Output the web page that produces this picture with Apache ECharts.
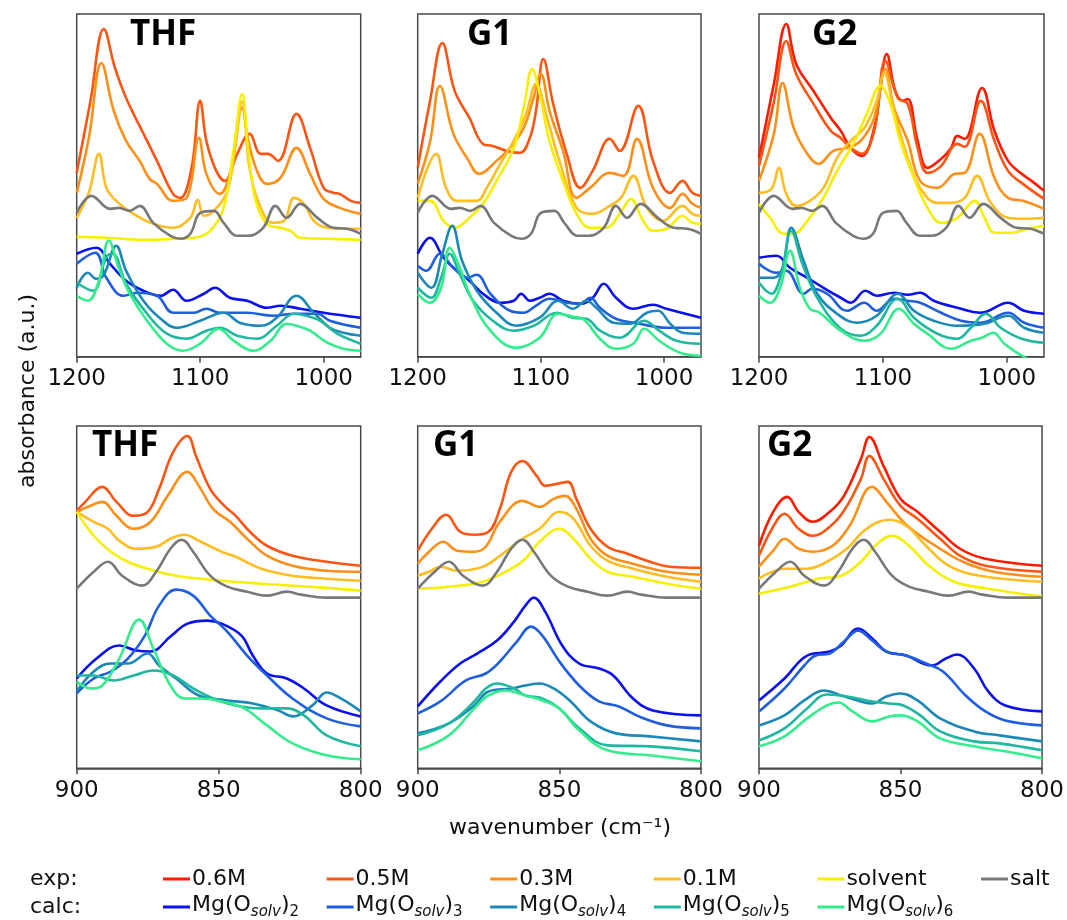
<!DOCTYPE html>
<html><head><meta charset="utf-8">
<script src="https://cdn.jsdelivr.net/npm/echarts@6/dist/echarts.min.js"></script>
<style>html,body{margin:0;padding:0;background:#fff}#c{width:1067px;height:920px}</style>
</head><body><div id="c"></div>
<script>
// ---------- legend / series names & colours ----------
const expNames = ['0.6M', '0.5M', '0.3M', '0.1M', 'solvent', 'salt'];
const expColors = ['#ff1a00', '#ff5512', '#ff8f17', '#ffbd22', '#f7ef00', '#787878'];
const calcIdx = ['2', '3', '4', '5', '6'];
const calcColors = ['#0b10ee', '#1f5fdf', '#1b88b8', '#1fb79f', '#33ec8c'];
const topTicks = [1200, 1100, 1000];
const panelLabels = ['THF', 'G1', 'G2'];

// ---------- shared salt spectra ----------
const salt_top = [[1200,144],[1188,161],[1173,148],[1166,149],[1157,146],[1149,151],[1138,134],[1124,121],[1116,118],[1108,123],[1100,144],[1089,146],[1081,134],[1070,121],[1061,121],[1049,129],[1039,151],[1030,139],[1019,153],[1005,139],[992,129],[981,128],[970,123]];
const salt_bot = [[900,180],[894,197],[889,207],[884,193],[877,183],[872,197],[867,220],[863,229],[859,217],[853,193],[847,182],[840,177],[833,173],[826,177],[821,174],[812,171],[800,171]];

// ---------- THF, 1200-970 ----------
const thfT_05 = [[1200,184],[1189,255],[1178,328],[1169,289],[1160,259],[1143,216],[1135,196],[1122,163],[1116,159],[1107,189],[1100,256],[1095,216],[1087,186],[1080,176],[1070,203],[1060,223],[1051,203],[1045,203],[1037,196],[1022,243],[1011,209],[1000,169],[992,164],[987,163],[978,156],[970,154]];
const thfT_03 = [[1200,164],[1190,220],[1180,294],[1170,246],[1160,216],[1149,196],[1141,178],[1135,173],[1122,156],[1111,159],[1101,219],[1095,183],[1084,163],[1076,183],[1066,249],[1061,216],[1054,186],[1046,173],[1035,179],[1022,209],[1011,183],[1000,158],[987,149],[970,143]];
const thfT_01 = [[1200,139],[1190,165],[1182,203],[1176,169],[1168,156],[1154,143],[1138,133],[1122,129],[1108,139],[1102,157],[1097,141],[1089,146],[1078,166],[1072,206],[1066,255],[1060,189],[1051,149],[1041,134],[1032,136],[1024,159],[1016,153],[1008,136],[997,129],[981,128],[970,128]];
const thfT_sol = [[1200,120],[1175,119],[1146,117],[1120,118],[1105,119],[1092,126],[1081,149],[1073,206],[1066,263],[1061,206],[1055,156],[1046,133],[1035,129],[1027,126],[1019,119],[997,118],[970,117]];
const thfT_m2 = [[1200,103],[1184,109],[1173,93],[1160,76],[1146,66],[1132,61],[1122,67],[1111,56],[1097,63],[1088,69],[1076,59],[1062,56],[1046,49],[1035,51],[1019,48],[1000,44],[970,39]];
const thfT_m3 = [[1200,93],[1185,104],[1176,79],[1162,61],[1151,64],[1135,61],[1122,44],[1105,44],[1095,48],[1084,44],[1062,44],[1041,41],[1024,43],[1005,43],[995,36],[970,29]];
const thfT_m4 = [[1200,69],[1191,84],[1184,78],[1178,82],[1168,111],[1160,86],[1146,56],[1132,38],[1119,29],[1100,36],[1081,44],[1068,34],[1051,31],[1038,39],[1022,61],[1008,44],[995,29],[984,24],[970,21]];
const thfT_m5 = [[1200,74],[1187,66],[1176,100],[1171,103],[1160,73],[1143,43],[1127,23],[1111,18],[1095,26],[1084,29],[1070,21],[1054,18],[1038,31],[1024,43],[1014,41],[1003,36],[989,23],[970,13]];
const thfT_m6 = [[1200,61],[1191,56],[1182,76],[1174,116],[1166,89],[1157,63],[1143,36],[1127,13],[1114,6],[1100,13],[1085,28],[1073,16],[1057,6],[1043,16],[1030,33],[1022,31],[1011,26],[997,14],[984,8],[970,6]];

// ---------- G1, 1200-970 ----------
const g1T_05 = [[1200,189],[1190,256],[1180,314],[1170,266],[1158,239],[1147,213],[1139,211],[1128,206],[1117,204],[1109,219],[1104,246],[1098,298],[1090,253],[1079,203],[1068,169],[1058,186],[1044,218],[1036,206],[1021,251],[1009,196],[995,164],[985,176],[977,164],[970,161]];
const g1T_03 = [[1200,173],[1190,215],[1182,271],[1171,223],[1160,199],[1150,183],[1136,196],[1125,209],[1114,229],[1106,259],[1100,283],[1093,246],[1082,206],[1071,159],[1060,169],[1044,184],[1033,181],[1022,218],[1009,169],[995,149],[985,163],[977,153],[970,149]];
const g1T_01 = [[1200,159],[1185,203],[1177,169],[1168,156],[1152,156],[1144,169],[1133,193],[1122,216],[1112,243],[1104,273],[1095,239],[1085,196],[1071,149],[1058,143],[1044,151],[1035,159],[1025,181],[1014,149],[1001,136],[985,151],[977,143],[970,141]];
const g1T_sol = [[1200,156],[1190,156],[1179,136],[1170,129],[1158,139],[1147,153],[1136,176],[1122,209],[1114,249],[1107,288],[1101,263],[1093,216],[1082,176],[1071,143],[1060,129],[1047,129],[1036,143],[1027,158],[1017,136],[1009,126],[998,128],[985,141],[977,134],[970,133]];
const g1T_m2 = [[1200,103],[1190,119],[1179,99],[1168,86],[1158,76],[1147,63],[1133,54],[1122,56],[1116,63],[1109,56],[1101,59],[1093,63],[1082,56],[1068,53],[1058,59],[1049,73],[1039,59],[1025,48],[1009,52],[998,48],[970,39]];
const g1T_m3 = [[1200,91],[1193,86],[1182,103],[1171,89],[1160,79],[1152,82],[1141,63],[1125,46],[1114,44],[1104,51],[1093,58],[1079,54],[1068,53],[1060,59],[1052,49],[1039,38],[1020,33],[998,29],[970,29]];
const g1T_m4 = [[1200,84],[1189,69],[1180,103],[1172,131],[1164,96],[1152,66],[1136,44],[1120,31],[1101,39],[1086,56],[1074,48],[1063,56],[1055,49],[1041,34],[1028,33],[1014,44],[1005,46],[995,33],[985,24],[970,23]];
const g1T_m5 = [[1200,69],[1189,59],[1181,79],[1174,103],[1166,83],[1155,56],[1139,36],[1122,26],[1106,31],[1087,44],[1074,39],[1063,38],[1052,26],[1036,19],[1016,36],[1004,26],[990,16],[970,13]];
const g1T_m6 = [[1200,63],[1190,54],[1181,69],[1174,109],[1167,93],[1158,63],[1141,26],[1120,9],[1101,19],[1086,43],[1074,40],[1066,38],[1052,18],[1039,8],[1025,13],[1016,28],[1004,16],[987,4],[970,1]];

// ---------- G2, 1200-970 ----------
const g2T_06 = [[1200,199],[1188,273],[1178,333],[1170,293],[1156,266],[1142,239],[1134,226],[1126,209],[1117,201],[1107,229],[1102,269],[1097,303],[1090,266],[1084,256],[1080,258],[1072,216],[1064,189],[1053,198],[1045,209],[1040,221],[1034,218],[1020,269],[1010,226],[999,196],[988,183],[980,176],[970,166]];
const g2T_05 = [[1200,191],[1188,255],[1178,316],[1170,283],[1156,253],[1142,226],[1134,219],[1126,209],[1117,203],[1107,226],[1098,296],[1088,259],[1080,253],[1072,209],[1064,184],[1053,191],[1040,213],[1034,210],[1021,256],[1010,216],[999,186],[987,173],[970,158]];
const g2T_03 = [[1200,176],[1188,223],[1181,274],[1172,229],[1161,203],[1152,193],[1140,206],[1129,209],[1118,216],[1107,239],[1098,288],[1091,249],[1080,216],[1070,176],[1056,169],[1042,183],[1034,184],[1022,223],[1010,179],[999,159],[987,156],[970,148]];
const g2T_01 = [[1200,164],[1190,168],[1184,189],[1178,163],[1170,151],[1159,156],[1148,169],[1137,199],[1126,216],[1115,229],[1105,256],[1099,284],[1091,246],[1080,199],[1070,169],[1056,154],[1045,154],[1034,159],[1024,181],[1013,154],[999,139],[986,138],[970,139]];
const g2T_sol = [[1200,153],[1191,139],[1180,123],[1172,123],[1161,136],[1148,159],[1137,186],[1124,213],[1113,243],[1102,271],[1094,253],[1086,216],[1075,179],[1064,149],[1053,134],[1040,139],[1026,156],[1018,139],[1010,124],[997,124],[983,128],[970,131]];
const g2T_m2 = [[1200,99],[1186,101],[1175,89],[1161,79],[1148,69],[1134,59],[1126,54],[1114,66],[1105,61],[1091,64],[1080,62],[1070,64],[1059,56],[1040,49],[1021,44],[999,54],[986,46],[970,43]];
const g2T_m3 = [[1200,93],[1186,84],[1178,86],[1164,63],[1157,68],[1145,63],[1129,46],[1115,54],[1105,46],[1091,58],[1080,56],[1070,54],[1053,44],[1037,36],[1021,34],[999,44],[986,34],[970,29]];
const g2T_m4 = [[1200,79],[1188,79],[1181,89],[1174,129],[1164,96],[1153,63],[1137,43],[1121,34],[1105,41],[1088,63],[1075,46],[1059,36],[1040,31],[1018,33],[999,41],[986,29],[970,24]];
const g2T_m5 = [[1200,74],[1190,63],[1182,83],[1174,126],[1165,93],[1153,59],[1134,28],[1118,21],[1105,31],[1088,58],[1075,39],[1056,23],[1040,18],[1029,29],[1017,43],[1005,29],[988,18],[970,14]];
const g2T_m6 = [[1200,61],[1191,54],[1183,69],[1175,106],[1167,69],[1159,48],[1151,44],[1134,26],[1115,16],[1102,23],[1087,48],[1075,33],[1064,23],[1045,8],[1029,16],[1020,19],[1011,24],[1002,13],[988,1],[970,-11]];

// ---------- THF, 900-800 ----------
const thfB_05 = [[900,258],[897,267],[891,282],[886,267],[880,253],[875,257],[871,280],[866,317],[861,333],[858,313],[853,280],[848,263],[844,253],[839,237],[833,223],[824,213],[812,207],[800,203]];
const thfB_03 = [[900,257],[896,262],[891,267],[886,253],[880,240],[874,247],[868,273],[861,297],[857,283],[852,260],[846,247],[840,230],[833,213],[824,203],[812,198],[800,197]];
const thfB_01 = [[900,257],[894,247],[889,240],[885,228],[879,220],[872,222],[867,230],[862,234],[857,228],[849,217],[844,212],[835,200],[824,193],[812,190],[800,188]];
const thfB_sol = [[900,257],[894,233],[888,217],[882,207],[875,200],[865,193],[853,189],[835,185],[818,182],[800,178]];
const thfB_m2 = [[900,90],[893,110],[885,123],[879,118],[874,117],[867,132],[861,145],[854,148],[849,145],[842,133],[838,113],[833,95],[826,90],[820,80],[812,63],[800,52]];
const thfB_m3 = [[900,75],[894,90],[888,97],[882,110],[876,133],[871,163],[865,179],[859,173],[853,153],[847,137],[840,113],[833,93],[824,70],[812,50],[800,42]];
const thfB_m4 = [[900,77],[894,97],[888,105],[882,105],[875,115],[871,103],[865,90],[857,73],[847,68],[838,65],[829,58],[824,52],[817,63],[812,76],[807,70],[800,57]];
const thfB_m5 = [[900,93],[894,93],[887,88],[880,93],[873,98],[866,93],[859,80],[852,70],[844,63],[835,60],[826,60],[820,53],[812,33],[800,22]];
const thfB_m6 = [[900,87],[895,80],[891,83],[885,110],[878,149],[873,120],[867,83],[862,70],[856,70],[849,67],[841,60],[833,43],[824,25],[812,13],[800,9]];

// ---------- G1, 900-800 ----------
const g1B_05 = [[900,218],[895,240],[890,254],[885,237],[880,234],[875,237],[871,260],[867,297],[863,308],[858,293],[855,283],[851,285],[847,287],[844,270],[839,240],[833,222],[826,215],[818,207],[811,202],[800,201]];
const g1B_03 = [[900,205],[896,217],[891,227],[886,218],[880,217],[876,222],[871,247],[863,268],[857,262],[852,270],[848,273],[844,260],[839,230],[833,213],[824,205],[812,197],[800,194]];
const g1B_01 = [[900,193],[896,197],[892,202],[886,198],[877,202],[871,213],[863,230],[857,240],[850,257],[845,250],[839,223],[833,208],[824,200],[812,192],[800,187]];
const g1B_sol = [[900,180],[889,182],[877,187],[867,200],[862,210],[857,227],[850,240],[845,230],[839,210],[833,197],[824,192],[812,185],[800,180]];
const g1B_m2 = [[900,62],[892,87],[885,105],[879,115],[872,128],[866,147],[862,163],[859,171],[855,157],[849,123],[843,105],[836,100],[831,93],[824,70],[817,58],[800,53]];
const g1B_m3 = [[900,55],[892,67],[883,88],[876,95],[871,107],[865,127],[860,142],[856,133],[850,107],[843,83],[836,67],[829,62],[822,52],[812,43],[800,40]];
const g1B_m4 = [[900,35],[889,45],[880,63],[875,77],[867,80],[862,83],[857,85],[852,80],[846,67],[839,47],[830,35],[818,32],[800,27]];
const g1B_m5 = [[900,33],[889,45],[880,67],[876,80],[872,85],[866,80],[862,73],[856,70],[850,60],[843,40],[833,23],[818,22],[800,17]];
const g1B_m6 = [[900,18],[889,33],[880,60],[875,73],[869,78],[862,73],[856,68],[850,60],[843,38],[833,18],[818,13],[800,7]];

// ---------- G2, 900-800 ----------
const g2B_06 = [[900,223],[895,257],[890,272],[886,257],[881,247],[875,257],[870,273],[864,310],[861,332],[856,303],[850,270],[844,257],[836,237],[829,220],[820,210],[800,203]];
const g2B_05 = [[900,213],[895,242],[891,255],[886,240],[881,233],[875,242],[870,258],[864,290],[861,313],[856,290],[850,263],[844,250],[836,230],[829,213],[820,203],[800,197]];
const g2B_03 = [[900,202],[895,218],[891,230],[886,220],[881,217],[874,223],[868,243],[860,282],[855,267],[849,247],[843,233],[836,220],[828,207],[817,197],[800,192]];
const g2B_01 = [[900,190],[891,200],[883,200],[876,207],[869,220],[862,240],[854,249],[848,243],[841,223],[833,203],[822,193],[800,187]];
const g2B_sol = [[900,175],[889,182],[879,190],[871,193],[864,207],[859,223],[853,233],[847,223],[840,203],[831,187],[819,180],[800,172]];
const g2B_m2 = [[900,68],[891,90],[883,113],[875,117],[871,123],[865,140],[860,130],[855,117],[848,113],[839,103],[834,110],[830,114],[824,100],[819,77],[813,63],[800,57]];
const g2B_m3 = [[900,57],[891,80],[884,103],[880,113],[875,115],[870,127],[865,138],[860,128],[855,117],[848,113],[841,105],[835,97],[827,73],[820,57],[813,48],[800,43]];
const g2B_m4 = [[900,43],[891,53],[884,68],[877,78],[871,73],[864,67],[860,65],[855,72],[850,75],[844,68],[836,50],[824,37],[815,33],[800,27]];
const g2B_m5 = [[900,28],[891,40],[883,60],[876,74],[869,72],[860,67],[854,65],[849,63],[843,53],[836,37],[824,27],[815,25],[800,18]];
const g2B_m6 = [[900,22],[891,32],[883,50],[876,63],[872,66],[867,57],[860,47],[854,52],[850,53],[844,47],[836,30],[824,22],[813,17],[800,10]];

// ---------- panel composition (exp keyed by legend index) ----------
const panels = [
  {row:0, col:0, exp:{1:thfT_05, 2:thfT_03, 3:thfT_01, 4:thfT_sol, 5:salt_top}, calc:[thfT_m2,thfT_m3,thfT_m4,thfT_m5,thfT_m6]},
  {row:0, col:1, exp:{1:g1T_05, 2:g1T_03, 3:g1T_01, 4:g1T_sol, 5:salt_top}, calc:[g1T_m2,g1T_m3,g1T_m4,g1T_m5,g1T_m6]},
  {row:0, col:2, exp:{0:g2T_06, 1:g2T_05, 2:g2T_03, 3:g2T_01, 4:g2T_sol, 5:salt_top}, calc:[g2T_m2,g2T_m3,g2T_m4,g2T_m5,g2T_m6]},
  {row:1, col:0, exp:{1:thfB_05, 2:thfB_03, 3:thfB_01, 4:thfB_sol, 5:salt_bot}, calc:[thfB_m2,thfB_m3,thfB_m4,thfB_m5,thfB_m6]},
  {row:1, col:1, exp:{1:g1B_05, 2:g1B_03, 3:g1B_01, 4:g1B_sol, 5:salt_bot}, calc:[g1B_m2,g1B_m3,g1B_m4,g1B_m5,g1B_m6]},
  {row:1, col:2, exp:{0:g2B_06, 1:g2B_05, 2:g2B_03, 3:g2B_01, 4:g2B_sol, 5:salt_bot}, calc:[g2B_m2,g2B_m3,g2B_m4,g2B_m5,g2B_m6]}
];

// ---------- layout ----------
const gridLeft = [76.7, 417.7, 759];
const gridWidth = [284, 283.3, 285];
const gridTop = [14, 426];
const gridHeight = [342.7, 342.3];
const labelX = [[130, 467, 812], [92, 433, 767]];
const labelY = [40, 451];
const TICKFONT = 'DejaVu Sans';

const grids = [], xAxes = [], yAxes = [], series = [];
panels.forEach((p, i) => {
  grids.push({left: gridLeft[p.col], top: gridTop[p.row], width: gridWidth[p.col], height: gridHeight[p.row],
    show: true, borderColor: '#4a4a4a', borderWidth: 1.5, backgroundColor: 'transparent', containLabel: false});
  const top = p.row === 0;
  const xa = {type: 'value', gridIndex: i, inverse: true,
    min: top ? 970 : 800, max: top ? 1200 : 900,
    axisLine: {show: true, lineStyle: {color: '#4a4a4a', width: 1.5}},
    axisTick: {show: true, inside: false, length: 6, lineStyle: {color: '#4a4a4a', width: 1.5}},
    axisLabel: {show: true, margin: 11, color: '#111', fontSize: 23, fontFamily: TICKFONT,
      showMinLabel: true, showMaxLabel: true, formatter: v => String(v)},
    splitLine: {show: false}};
  if (top) {
    xa.axisTick.customValues = topTicks;
    xa.axisLabel.customValues = topTicks;
  } else {
    xa.interval = 50;
  }
  xAxes.push(xa);
  yAxes.push({type: 'value', gridIndex: i, min: 0, max: 343, show: false});
  const common = {type: 'line', xAxisIndex: i, yAxisIndex: i, showSymbol: false, smooth: 0.4,
    clip: true, silent: true};
  Object.keys(p.exp).forEach(k => {
    series.push(Object.assign({}, common, {name: expNames[k], data: p.exp[k],
      lineStyle: {color: expColors[k], width: 2.6}, itemStyle: {color: expColors[k]}}));
  });
  p.calc.forEach((d, k) => {
    series.push(Object.assign({}, common, {name: 'Mg(Osolv)' + calcIdx[k], data: d,
      lineStyle: {color: calcColors[k], width: 2.6}, itemStyle: {color: calcColors[k]}}));
  });
});

// ---------- graphic: panel labels, axis titles, legend ----------
const graphic = [];
panels.forEach(p => {
  graphic.push({type: 'text', left: labelX[p.row][p.col], top: labelY[p.row] - 22,
    style: {text: panelLabels[p.col], font: 'bold 35px "Open Sans"', fill: '#000'}});
});
graphic.push({type: 'text', x: 28, y: 391, rotation: Math.PI / 2,
  style: {text: 'absorbance (a.u.)', font: '22px "DejaVu Sans"', fill: '#111', align: 'center', verticalAlign: 'middle'}});
graphic.push({type: 'text', x: 560, y: 828,
  style: {text: 'wavenumber (cm\u207B\u00B9)', font: '22px "DejaVu Sans"', fill: '#111', align: 'center', verticalAlign: 'middle'}});

const legRowY = [879, 907];
const colX0 = 163, colStep = 163.6, lineLen = 27;
graphic.push({type: 'text', x: 30, y: legRowY[0], style: {text: 'exp:', font: '22px "DejaVu Sans"', fill: '#111', verticalAlign: 'middle'}});
graphic.push({type: 'text', x: 30, y: legRowY[1], style: {text: 'calc:', font: '22px "DejaVu Sans"', fill: '#111', verticalAlign: 'middle'}});
expNames.forEach((n, i) => {
  const x = colX0 + i * colStep;
  graphic.push({type: 'line', shape: {x1: x, y1: legRowY[0], x2: x + lineLen, y2: legRowY[0]}, style: {stroke: expColors[i], lineWidth: 3}});
  graphic.push({type: 'text', x: x + lineLen + 2, y: legRowY[0], style: {text: n, font: '22px "DejaVu Sans"', fill: '#111', verticalAlign: 'middle'}});
});
calcIdx.forEach((n, i) => {
  const x = colX0 + i * colStep;
  graphic.push({type: 'line', shape: {x1: x, y1: legRowY[1], x2: x + lineLen, y2: legRowY[1]}, style: {stroke: calcColors[i], lineWidth: 3}});
  graphic.push({type: 'text', x: x + lineLen + 2, y: legRowY[1] - 2, style: {
    text: '{m|Mg(O}{s|solv}{m|)}{b|' + n + '}', verticalAlign: 'middle', fill: '#111',
    rich: {
      m: {fontFamily: 'DejaVu Sans', fontSize: 22, lineHeight: 30, verticalAlign: 'middle', fill: '#111'},
      s: {fontFamily: 'DejaVu Sans', fontSize: 15, fontStyle: 'italic', lineHeight: 15, verticalAlign: 'bottom', fill: '#111'},
      b: {fontFamily: 'DejaVu Sans', fontSize: 15, lineHeight: 15, verticalAlign: 'bottom', fill: '#111'}
    }}});
});

const chart = echarts.init(document.getElementById('c'), null, {renderer: 'canvas'});
chart.setOption({
  animation: false,
  backgroundColor: '#fff',
  grid: grids, xAxis: xAxes, yAxis: yAxes, series: series, graphic: graphic,
  tooltip: {show: false}
});
</script></body></html>
